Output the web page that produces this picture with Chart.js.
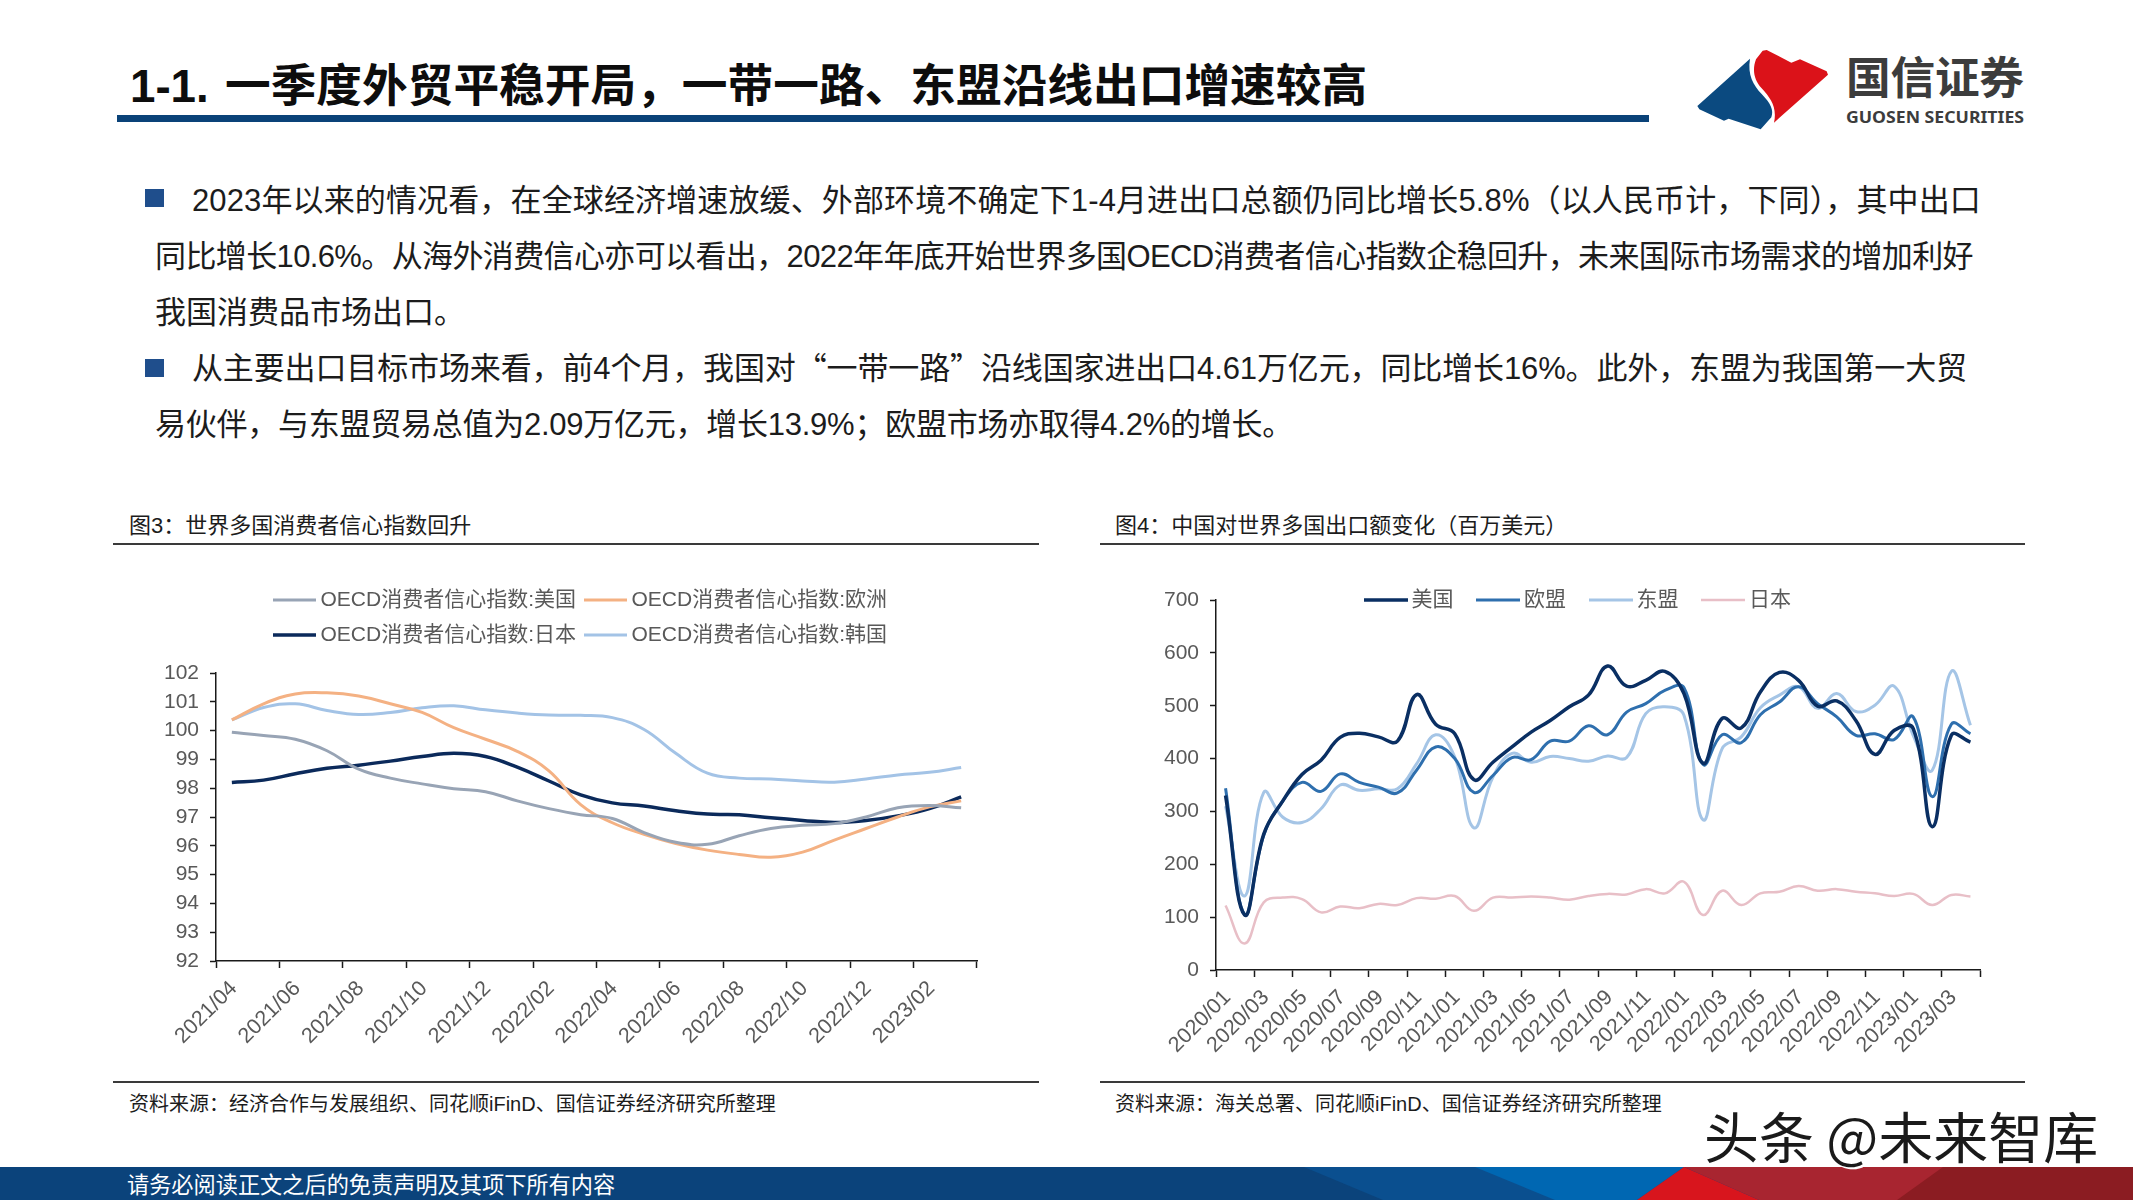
<!DOCTYPE html>
<html lang="zh-CN">
<head>
<meta charset="utf-8">
<title>1-1.一季度外贸平稳开局</title>
<script src="https://cdn.jsdelivr.net/npm/chart.js@4"></script>
<style>
html,body{margin:0;padding:0;background:#fff;}
body{position:relative;width:2133px;height:1200px;overflow:hidden;font-family:"Liberation Sans","Noto Sans CJK SC",sans-serif;color:#1c1c1c;}
.abs{position:absolute;white-space:nowrap;}
.title{left:130px;top:57px;line-height:60px;font-size:45.7px;font-weight:700;color:#0d0d0d;}
.title b{display:inline-block;width:95px;font-weight:700;}
.rule{left:117px;top:115px;width:1532px;height:7px;background:#0a4278;}
.line{font-size:31px;line-height:44px;height:44px;}
.q{font-family:"Noto Sans CJK SC",sans-serif;}
.bullet{width:19px;height:18px;background:#1f4e8c;}
.head{font-size:22px;line-height:30px;color:#1c1c1c;}
.src{font-size:20px;line-height:28px;color:#1c1c1c;}
.hr{height:2px;background:#3a3a3a;}
canvas{position:absolute;}
.foot{left:127px;top:1171px;font-size:22.2px;line-height:30px;color:#fff;}
.mark{left:1704px;top:1099px;font-size:55px;line-height:70px;color:#1a1a1a;text-shadow:2px 2px 0 #fff,-1px -1px 0 #fff;font-family:"Noto Sans CJK SC",sans-serif;}
svg{position:absolute;}
</style>
</head>
<body>
<div class="abs title"><b>1-1.</b>一季度外贸平稳开局，一带一路、东盟沿线出口增速较高</div>
<div class="abs rule"></div>

<svg style="left:1650px;top:20px" width="483" height="130" viewBox="0 0 1449 390">
  <path fill="#0b4a80" d="M142 258 L300 116 C292 165 310 195 335 222 C362 250 372 270 364 292 L332 328 L236 296 L222 302 L148 268 Z"/>
  <path fill="#db1219" d="M318 118 L338 92 L350 90 L424 128 L450 118 L530 154 L534 164 L372 308 C382 262 362 235 335 205 C312 180 306 150 318 118 Z"/>
  <text x="588" y="222" font-family="Noto Sans CJK SC" font-size="134" font-weight="700" fill="#3c3c3c" textLength="534" lengthAdjust="spacing">国信证券</text>
  <text x="588" y="308" font-family="Noto Sans" font-size="50" font-weight="700" fill="#3c3c3c" textLength="534" lengthAdjust="spacingAndGlyphs">GUOSEN SECURITIES</text>
</svg>

<div class="abs bullet" style="left:145px;top:189px"></div>
<div class="abs line" data-w="1789" style="left:192px;top:179px">2023年以来的情况看，在全球经济增速放缓、外部环境不确定下1-4月进出口总额仍同比增长5.8%（以人民币计，下同），其中出口</div>
<div class="abs line" data-w="1818" style="left:155px;top:235px">同比增长10.6%。从海外消费信心亦可以看出，2022年年底开始世界多国OECD消费者信心指数企稳回升，未来国际市场需求的增加利好</div>
<div class="abs line" data-w="310" style="left:155px;top:291px">我国消费品市场出口。</div>
<div class="abs bullet" style="left:145px;top:359px"></div>
<div class="abs line" data-w="1775" style="left:192px;top:344px">从主要出口目标市场来看，前4个月，我国对<span class="q">“</span>一带一路<span class="q">”</span>沿线国家进出口4.61万亿元，同比增长16%。此外，东盟为我国第一大贸</div>
<div class="abs line" data-w="1138" style="left:155px;top:403px">易伙伴，与东盟贸易总值为2.09万亿元，增长13.9%；欧盟市场亦取得4.2%的增长。</div>

<div class="abs head" style="left:129px;top:511px">图3：世界多国消费者信心指数回升</div>
<div class="abs hr" style="left:113px;top:543px;width:926px"></div>
<div class="abs head" style="left:1115px;top:511px">图4：中国对世界多国出口额变化（百万美元）</div>
<div class="abs hr" style="left:1100px;top:543px;width:925px"></div>

<canvas id="c1" width="933" height="550" style="left:113px;top:530px"></canvas>
<canvas id="c2" width="937" height="550" style="left:1113px;top:530px"></canvas>

<div class="abs hr" style="left:113px;top:1081px;width:926px"></div>
<div class="abs hr" style="left:1100px;top:1081px;width:925px"></div>
<div class="abs src" style="left:129px;top:1090px">资料来源：经济合作与发展组织、同花顺iFinD、国信证券经济研究所整理</div>
<div class="abs src" style="left:1115px;top:1090px">资料来源：海关总署、同花顺iFinD、国信证券经济研究所整理</div>

<svg style="left:0;top:1167px" width="2133" height="33" viewBox="0 0 2133 33">
  <rect width="2133" height="33" fill="#0b437b"/>
  <polygon points="1304,0 1684,0 1637,33 1383,33" fill="#0a4f8f"/>
  <polygon points="1475,0 1684,0 1637,33 1555,33" fill="#0067b2"/>
  <polygon points="1684,0 2133,0 2133,33 1759,33" fill="#a82530"/>
  <polygon points="1943,0 2133,0 2133,33 1897,33" fill="#8b1c22"/>
  <polygon points="1684,0 1759,33 1637,33" fill="#d8151d"/>
</svg>
<div class="abs foot">请务必阅读正文之后的免责声明及其项下所有内容</div>
<div class="abs mark">头条 @未来智库</div>

<script>
const months3 = ["2021/04","2021/05","2021/06","2021/07","2021/08","2021/09","2021/10","2021/11","2021/12","2022/01","2022/02","2022/03","2022/04","2022/05","2022/06","2022/07","2022/08","2022/09","2022/10","2022/11","2022/12","2023/01","2023/02","2023/03"];
const oecdUS    = [99.94,99.83,99.7,99.3,98.66,98.35,98.15,97.98,97.88,97.56,97.29,97.08,96.95,96.46,96.12,96.05,96.35,96.6,96.71,96.77,97.0,97.32,97.4,97.32];
const oecdEU    = [100.37,100.93,101.27,101.31,101.2,100.93,100.63,100.1,99.7,99.28,98.6,97.43,96.8,96.4,96.08,95.85,95.7,95.6,95.78,96.2,96.6,97.0,97.35,97.56];
const oecdJP    = [98.2,98.28,98.5,98.69,98.8,98.94,99.1,99.21,99.1,98.73,98.25,97.77,97.49,97.38,97.22,97.1,97.08,96.97,96.88,96.81,96.88,97.04,97.29,97.7];
const oecdKR    = [100.37,100.8,100.93,100.7,100.56,100.63,100.79,100.86,100.72,100.61,100.54,100.53,100.45,100.04,99.21,98.52,98.35,98.32,98.25,98.21,98.32,98.46,98.55,98.72];
const names3 = ["OECD消费者信心指数:美国","OECD消费者信心指数:欧洲","OECD消费者信心指数:日本","OECD消费者信心指数:韩国"];

const months4 = ["2020/01","2020/02","2020/03","2020/04","2020/05","2020/06","2020/07","2020/08","2020/09","2020/10","2020/11","2020/12","2021/01","2021/02","2021/03","2021/04","2021/05","2021/06","2021/07","2021/08","2021/09","2021/10","2021/11","2021/12","2022/01","2022/02","2022/03","2022/04","2022/05","2022/06","2022/07","2022/08","2022/09","2022/10","2022/11","2022/12","2023/01","2023/02","2023/03","2023/04"];
const expUS    = [330,104,257,320,370,397,440,448,441,433,521,465,447,360,393,422,450,472,498,520,575,537,548,565,523,391,476,458,526,563,548,499,509,472,408,453,457,271,444,431];
const expEU    = [344,105,255,320,355,338,371,355,346,335,378,422,400,336,368,402,398,433,433,462,445,488,504,529,534,389,445,430,483,507,536,504,479,444,447,436,479,328,465,447];
const expASEAN = [310,140,336,289,279,305,350,340,343,343,390,445,403,269,365,410,393,404,400,395,405,402,485,498,482,284,419,441,496,520,536,495,523,489,501,537,444,378,565,463];
const expJP    = [122,50,128,137,134,109,120,117,125,123,136,135,140,112,137,137,139,137,133,140,144,143,153,145,167,104,150,123,145,148,159,150,153,148,145,140,144,123,142,139];
const names4 = ["美国","欧盟","东盟","日本"];

const gray = '#595959', axisColor = '#1a1a1a';
Chart.defaults.font.family = '"Liberation Sans","Noto Sans CJK SC",sans-serif';
Chart.defaults.animation = false;

document.querySelectorAll('.line').forEach(el => {
  const natural = el.getBoundingClientRect().width;
  el.style.letterSpacing = ((+el.dataset.w - natural) / el.textContent.length) + 'px';
});

function swatch(color, width, thick){
  const c = document.createElement('canvas');
  c.width = width; c.height = 6;
  const x = c.getContext('2d');
  x.fillStyle = color; x.fillRect(0, 3 - thick/2, width, thick);
  return c;
}
function makeLine(label, data, color, width){
  return {label, data, borderColor: color, backgroundColor: color, borderWidth: width,
          pointRadius: 0, tension: 0.42, fill: false};
}
function everyOther(value, index){ return index % 2 ? '' : this.getLabelForValue(value); }
function xAxis(height){
  return {
    type:'category', offset:true,
    border:{display:true,color:axisColor,width:1.5},
    grid:{display:true,drawOnChartArea:false,drawTicks:true,offset:true,tickLength:7,tickWidth:1.5,
      tickColor:c => ((c.index ?? 0) % 2 === 0 ? axisColor : 'rgba(0,0,0,0)')},
    ticks:{autoSkip:false,minRotation:45,maxRotation:45,padding:8,labelOffset:2,color:gray,font:{size:21.5},callback:everyOther},
    afterFit:s => { s.height = height; }
  };
}
function yAxis(min,max,step,width){
  return {
    min,max,
    border:{display:true,color:axisColor,width:1.5},
    grid:{display:true,drawOnChartArea:false,drawTicks:true,tickLength:6,tickWidth:1.5,tickColor:axisColor},
    ticks:{stepSize:step,padding:11,color:gray,font:{size:21},autoSkip:false},
    afterFit:s => { s.width = width; }
  };
}
function legend(padding, swatchBox, swatchLong){
  return {
    display:true, position:'top',
    labels:{
      usePointStyle:true, pointStyleWidth:swatchBox, padding, color:gray, font:{size:21},
      generateLabels(chart){
        return Chart.defaults.plugins.legend.labels.generateLabels(chart).map(it => {
          const ds = chart.data.datasets[it.datasetIndex];
          return Object.assign(it,{pointStyle:swatch(ds.borderColor, swatchLong, ds.borderWidth)});
        });
      }
    }
  };
}
const shiftLegend = {id:'shiftLegend', afterLayout(chart, args, opts){
  const l = chart.legend;
  l.top += opts.dy; l.bottom += opts.dy; l.left += opts.dx; l.right += opts.dx;
}};

new Chart(document.getElementById('c1'),{
  type:'line',
  plugins:[shiftLegend],
  data:{labels:months3,datasets:[
    makeLine(names3[0],oecdUS,'#98a4b5',3),
    makeLine(names3[1],oecdEU,'#f4b183',3),
    makeLine(names3[2],oecdJP,'#0b2a5b',3.5),
    makeLine(names3[3],oecdKR,'#a3c3e6',3)
  ]},
  options:{
    responsive:false,
    layout:{padding:{top:63,right:69,left:0,bottom:0}},
    plugins:{legend:legend(14,31,43),tooltip:{enabled:false},shiftLegend:{dy:-17.5,dx:38}},
    scales:{x:xAxis(119),y:yAxis(92,102,1,103)}
  }
});

new Chart(document.getElementById('c2'),{
  type:'line',
  plugins:[shiftLegend],
  data:{labels:months4,datasets:[
    makeLine(names4[0],expUS,'#0a2f63',3.5),
    makeLine(names4[1],expEU,'#2e6fae',3),
    makeLine(names4[2],expASEAN,'#a5c5e6',3),
    makeLine(names4[3],expJP,'#e8bfc7',2.5)
  ]},
  options:{
    responsive:false,
    layout:{padding:{top:10,right:70,left:0,bottom:0}},
    plugins:{legend:legend(29,31,44),tooltip:{enabled:false},shiftLegend:{dy:20.5,dx:34}},
    scales:{x:xAxis(110),y:yAxis(0,700,100,103)}
  }
});
</script>
</body>
</html>
